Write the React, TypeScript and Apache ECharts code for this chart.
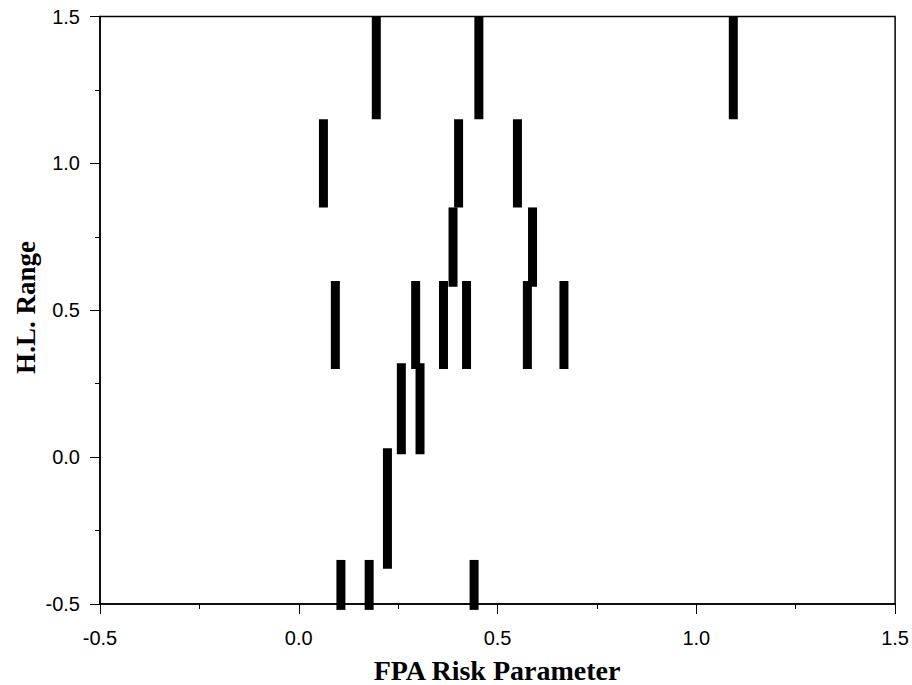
import React, { useEffect, useRef } from "react";
import * as echarts from "echarts";

const riskX = [0.195, 0.453, 1.093, 0.062, 0.402, 0.55, 0.388, 0.588, 0.092, 0.294, 0.364, 0.422, 0.575, 0.667, 0.258, 0.305, 0.223, 0.106, 0.177, 0.441];
const rangeLow = [1.15, 1.15, 1.15, 0.85, 0.85, 0.85, 0.58, 0.58, 0.3, 0.3, 0.3, 0.3, 0.3, 0.3, 0.01, 0.01, -0.38, -0.52, -0.52, -0.52];
const rangeHigh = [1.5, 1.5, 1.5, 1.15, 1.15, 1.15, 0.85, 0.85, 0.6, 0.6, 0.6, 0.6, 0.6, 0.6, 0.32, 0.32, 0.03, -0.35, -0.35, -0.35];
const xTitle = "FPA Risk Parameter";
const yTitle = "H.L. Range";

export default function App() {
  const ref = useRef<HTMLDivElement>(null);
  useEffect(() => {
    if (!ref.current) return;
    const chart = echarts.init(ref.current, null, { renderer: "svg" });
    const data = riskX.map((x, i) => [x, rangeLow[i], rangeHigh[i]]);
    const axisCommon = {
      min: -0.5,
      max: 1.5,
      interval: 0.5,
      axisLine: { show: true, onZero: false, lineStyle: { color: "#000", width: 1.5 } },
      axisTick: { show: true, length: 10, lineStyle: { color: "#000", width: 1 } },
      minorTick: { show: true, splitNumber: 2, length: 5, lineStyle: { color: "#000", width: 1 } },
      splitLine: { show: false },
      axisLabel: {
        color: "#000",
        fontFamily: "Liberation Sans, Arial, sans-serif",
        fontSize: 20,
        formatter: (v: number) => v.toFixed(1),
      },
    };
    chart.setOption({
      animation: false,
      backgroundColor: "#fff",
      grid: {
        left: 100,
        right: 16,
        top: 16.5,
        bottom: 81,
        show: true,
        borderColor: "#000",
        borderWidth: 1.5,
        backgroundColor: "transparent",
      },
      xAxis: {
        type: "value",
        ...axisCommon,
        axisLabel: { ...axisCommon.axisLabel, margin: 24 },
      },
      yAxis: {
        type: "value",
        ...axisCommon,
        axisLabel: { ...axisCommon.axisLabel, margin: 20 },
      },
      graphic: [
        {
          type: "text",
          x: 497,
          y: 670,
          style: {
            text: xTitle,
            fill: "#000",
            font: "bold 28px 'Liberation Serif', 'Times New Roman', serif",
            textAlign: "center",
            textVerticalAlign: "middle",
          },
        },
        {
          type: "text",
          x: 26,
          y: 307.5,
          rotation: Math.PI / 2,
          style: {
            text: yTitle,
            fill: "#000",
            font: "bold 27px 'Liberation Serif', 'Times New Roman', serif",
            textAlign: "center",
            textVerticalAlign: "middle",
          },
        },
      ],
      series: [
        {
          type: "custom",
          clip: false,
          data,
          encode: { x: 0, y: [1, 2] },
          renderItem: (params: any, api: any) => {
            const x = api.value(0);
            const p1 = api.coord([x, api.value(1)]);
            const p2 = api.coord([x, api.value(2)]);
            const w = 9;
            return {
              type: "rect",
              shape: { x: p1[0] - w / 2, y: p2[1], width: w, height: p1[1] - p2[1] },
              style: { fill: "#000" },
            };
          },
        },
      ],
    });
    return () => chart.dispose();
  }, []);
  return (
    <div
      ref={ref}
      style={{ position: "fixed", left: 0, top: 0, width: 912, height: 685, background: "#fff" }}
    />
  );
}
